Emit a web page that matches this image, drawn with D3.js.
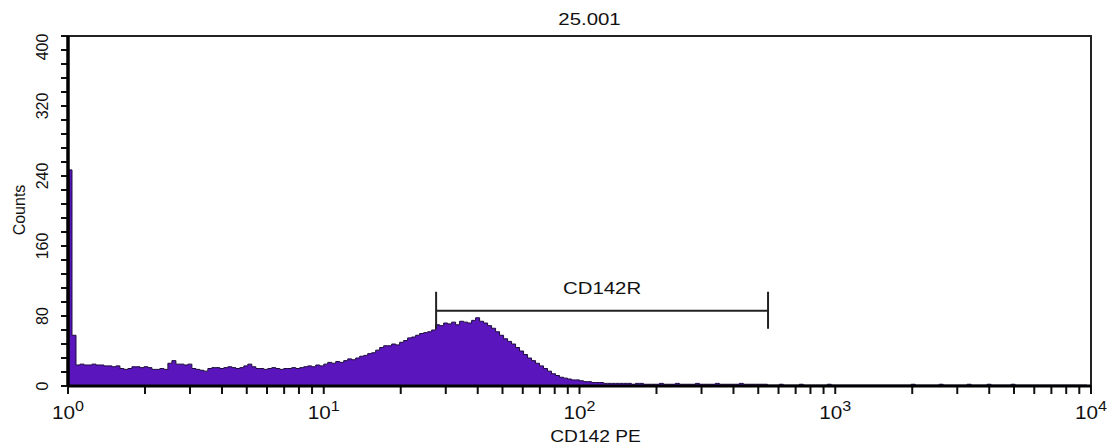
<!DOCTYPE html>
<html>
<head>
<meta charset="utf-8">
<script src="https://cdn.jsdelivr.net/npm/d3@7"></script>
<style>
  body { margin: 0; background: #fff; }
  text { font-family: "Liberation Sans", Arial, sans-serif; fill: #111; }
</style>
</head>
<body>
<div id="chart"></div>
<script>
// histogram of CD142 PE, 256 log channels over 10^0..10^4
const counts = [
  247, 58, 24, 25, 24, 24, 25, 24, 24, 23, 23, 22, 23, 20, 19, 20,
  22, 22, 21, 22, 21, 19, 19, 20, 19, 26, 29, 25, 25, 24, 25, 20,
  19, 18, 17, 20, 21, 21, 20, 21, 22, 21, 20, 21, 23, 25, 22, 20,
  20, 19, 20, 21, 20, 19, 20, 20, 21, 20, 21, 22, 23, 22, 24, 23,
  25, 27, 26, 28, 27, 29, 31, 30, 32, 34, 35, 37, 38, 41, 44, 46,
  46, 48, 47, 50, 52, 55, 56, 58, 60, 61, 62, 64, 70, 69, 72, 71,
  73, 70, 74, 73, 72, 75, 78, 74, 72, 69, 66, 62, 58, 54, 51, 48,
  44, 40, 36, 32, 29, 26, 23, 20, 17, 14, 12, 10, 9, 8, 7, 7,
  6, 5, 5, 4, 4, 4, 3, 3, 3, 3, 3, 3, 3, 2, 3, 3,
  2, 2, 2, 2, 3, 2, 2, 2, 3, 2, 2, 2, 2, 3, 2, 2,
  2, 2, 3, 2, 2, 2, 2, 2, 3, 2, 2, 2, 2, 2, 2, 1,
  1, 1, 2, 1, 1, 1, 1, 2, 1, 1, 1, 1, 1, 1, 2, 1,
  1, 1, 1, 1, 1, 1, 1, 1, 1, 1, 1, 1, 1, 1, 1, 1,
  1, 1, 1, 2, 1, 1, 1, 1, 1, 1, 2, 1, 1, 1, 1, 1,
  1, 2, 1, 1, 1, 1, 2, 1, 1, 1, 1, 1, 2, 1, 1, 1,
  1, 1, 1, 1, 1, 1, 1, 1, 1, 1, 1, 1, 1, 1, 1, 0
]
const yTicks = [0, 80, 160, 240, 320, 400]
const xDecades = [0, 1, 2, 3, 4]
const gate = { name: 'CD142R', from: 27.5, to: 546, level: 86 }
const title = '25.001'
const xLabel = 'CD142 PE'
const yLabel = 'Counts'

const width = 1112
const height = 447
const margin = { top: 36, right: 21, bottom: 61, left: 68 }
const plotW = width - margin.left - margin.right
const plotH = height - margin.top - margin.bottom

const svg = d3.select('#chart').append('svg')
  .attr('width', width)
  .attr('height', height)

const x = d3.scaleLog().domain([1, 10000]).range([margin.left, margin.left + plotW])
const y = d3.scaleLinear().domain([0, 400]).range([margin.top + plotH, margin.top])

// channel edges on the log axis
const nCh = counts.length
const bins = counts.map((c, i) => ({ x0: Math.pow(10, 4 * i / nCh), c }))
bins.push({ x0: 10000, c: counts[nCh - 1] })

const area = d3.area()
  .x(d => x(d.x0))
  .y0(y(0))
  .y1(d => y(d.c))
  .curve(d3.curveStepAfter)

svg.append('path')
  .datum(bins)
  .attr('d', area)
  .attr('fill', '#5a16bc')

svg.append('path')
  .datum(bins)
  .attr('d', d3.line().x(d => x(d.x0)).y(d => y(d.c)).curve(d3.curveStepAfter))
  .attr('fill', 'none')
  .attr('stroke', '#1c0b3e')
  .attr('stroke-width', 1)

// frame
svg.append('rect')
  .attr('x', margin.left)
  .attr('y', margin.top)
  .attr('width', plotW)
  .attr('height', plotH)
  .attr('fill', 'none')
  .attr('stroke', '#222')
  .attr('stroke-width', 2)

// y axis
const yMinor = d3.range(0, 401, 16)
const yAxis = svg.append('g').attr('transform', `translate(${margin.left},0)`)
yAxis.selectAll('line.minor')
  .data(yMinor)
  .join('line')
  .attr('x1', -7).attr('x2', 0)
  .attr('y1', d => y(d)).attr('y2', d => y(d))
  .attr('stroke', '#111').attr('stroke-width', 2)
yAxis.append('line')
  .attr('x1', 0).attr('x2', 0)
  .attr('y1', y(0)).attr('y2', y(400))
  .attr('stroke', '#000').attr('stroke-width', 3.5)
yAxis.selectAll('text.tick')
  .data(yTicks)
  .join('text')
  .attr('transform', d => `translate(-20,${d === 400 ? y(d) + 11 : y(d)}) rotate(-90)`)
  .attr('text-anchor', 'middle')
  .attr('font-size', 16)
  .text(d => d)

// x axis
const xMinor = []
xDecades.slice(0, -1).forEach(p => {
  for (let k = 1; k < 10; k++) xMinor.push(k * Math.pow(10, p))
})
xMinor.push(10000)
const xAxis = svg.append('g').attr('transform', `translate(0,${y(0)})`)
xAxis.selectAll('line.minor')
  .data(xMinor)
  .join('line')
  .attr('x1', d => x(d)).attr('x2', d => x(d))
  .attr('y1', 0).attr('y2', 8)
  .attr('stroke', '#111').attr('stroke-width', 2)
xAxis.append('line')
  .attr('x1', x(1)).attr('x2', x(10000))
  .attr('y1', 0).attr('y2', 0)
  .attr('stroke', '#000').attr('stroke-width', 3)

const xl = xAxis.selectAll('text.tick')
  .data(xDecades)
  .join('text')
  .attr('transform', d => `translate(${x(Math.pow(10, d))},33) scale(1.15,1)`)
  .attr('text-anchor', 'middle')
  .attr('font-size', 18)
xl.append('tspan').text('10')
xl.append('tspan').attr('font-size', 14).attr('dy', -8).text(d => d)

// gate marker
const gy = y(gate.level)
const gg = svg.append('g').attr('stroke', '#222').attr('stroke-width', 2)
gg.append('line').attr('x1', x(gate.from)).attr('x2', x(gate.to)).attr('y1', gy).attr('y2', gy)
gg.append('line').attr('x1', x(gate.from)).attr('x2', x(gate.from)).attr('y1', gy - 19).attr('y2', gy + 18)
gg.append('line').attr('x1', x(gate.to)).attr('x2', x(gate.to)).attr('y1', gy - 19).attr('y2', gy + 18)
svg.append('text')
  .attr('transform', `translate(${(x(gate.from) + x(gate.to)) / 2},${gy - 17}) scale(1.2,1)`)
  .attr('text-anchor', 'middle')
  .attr('font-size', 17)
  .text(gate.name)

// titles
svg.append('text')
  .attr('transform', `translate(${margin.left + plotW / 2 + 10},25) scale(1.2,1)`)
  .attr('text-anchor', 'middle')
  .attr('font-size', 17)
  .text(title)
svg.append('text')
  .attr('transform', `translate(${margin.left + plotW / 2 + 16},442) scale(1.2,1)`)
  .attr('text-anchor', 'middle')
  .attr('font-size', 16)
  .text(xLabel)
svg.append('text')
  .attr('transform', `translate(25,210) rotate(-90)`)
  .attr('text-anchor', 'middle')
  .attr('font-size', 16)
  .text(yLabel)
</script>
</body>
</html>
